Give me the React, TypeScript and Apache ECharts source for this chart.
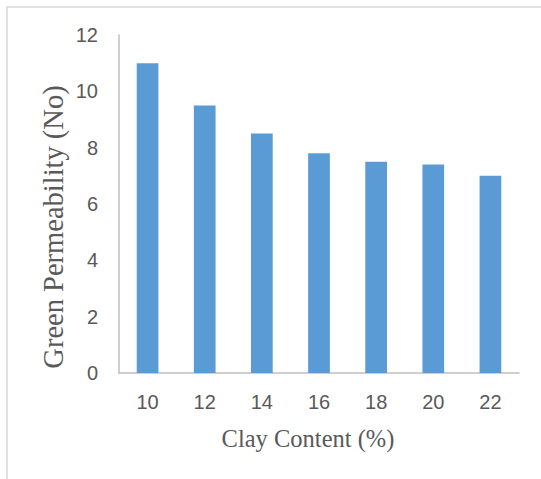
import React, { useEffect, useRef } from "react";
import * as echarts from "echarts";

// Clay content (%) on the x axis, green permeability number on the y axis
const clayContent = ["10", "12", "14", "16", "18", "20", "22"];
const greenPermeability = [11, 9.5, 8.5, 7.8, 7.5, 7.4, 7.0];
const yTicks = { min: 0, max: 12, interval: 2 };

const xTitle = "Clay Content (%)";
const yTitle = "Green Permeability (No)";

export default function App() {
  const ref = useRef<HTMLDivElement>(null);

  useEffect(() => {
    document.body.style.margin = "0";
    if (!ref.current) return;
    const chart = echarts.init(ref.current, undefined, { renderer: "svg" });
    const tickFont = "'Liberation Sans', Arial, sans-serif";
    const titleFont = "'Liberation Serif', 'Times New Roman', serif";
    chart.setOption({
      animation: false,
      backgroundColor: "#ffffff",
      grid: { left: 119, top: 35, right: 22, bottom: 106, containLabel: false },
      xAxis: {
        type: "category",
        data: clayContent,
        axisLine: { show: true, lineStyle: { color: "#bfbfbf", width: 1.5 } },
        axisTick: { show: false },
        axisLabel: {
          color: "#595959",
          fontFamily: tickFont,
          fontSize: 20,
          margin: 19,
        },
      },
      yAxis: {
        type: "value",
        min: yTicks.min,
        max: yTicks.max,
        interval: yTicks.interval,
        splitLine: { show: false },
        axisLine: { show: true, lineStyle: { color: "#bfbfbf", width: 1.5 } },
        axisTick: { show: false },
        axisLabel: {
          color: "#595959",
          fontFamily: tickFont,
          fontSize: 20,
          margin: 21,
        },
      },
      graphic: [
        {
          type: "rect",
          silent: true,
          shape: { x: 7, y: 7, width: 700, height: 700 },
          style: { fill: "none", stroke: "#d9d9d9", lineWidth: 1.5 },
        },
        {
          type: "text",
          silent: true,
          x: 308,
          y: 438,
          style: {
            text: xTitle,
            fill: "#595959",
            font: `24.5px ${titleFont}`,
            align: "center",
            verticalAlign: "middle",
          },
        },
        {
          type: "text",
          silent: true,
          x: 53,
          y: 227,
          rotation: Math.PI / 2,
          style: {
            text: yTitle,
            fill: "#595959",
            font: `28.5px ${titleFont}`,
            align: "center",
            verticalAlign: "middle",
          },
        },
      ],
      series: [
        {
          type: "bar",
          data: greenPermeability,
          barWidth: "38%",
          itemStyle: { color: "#5b9bd5" },
        },
      ],
    });
    return () => chart.dispose();
  }, []);

  return <div ref={ref} style={{ width: 541, height: 479 }} />;
}
